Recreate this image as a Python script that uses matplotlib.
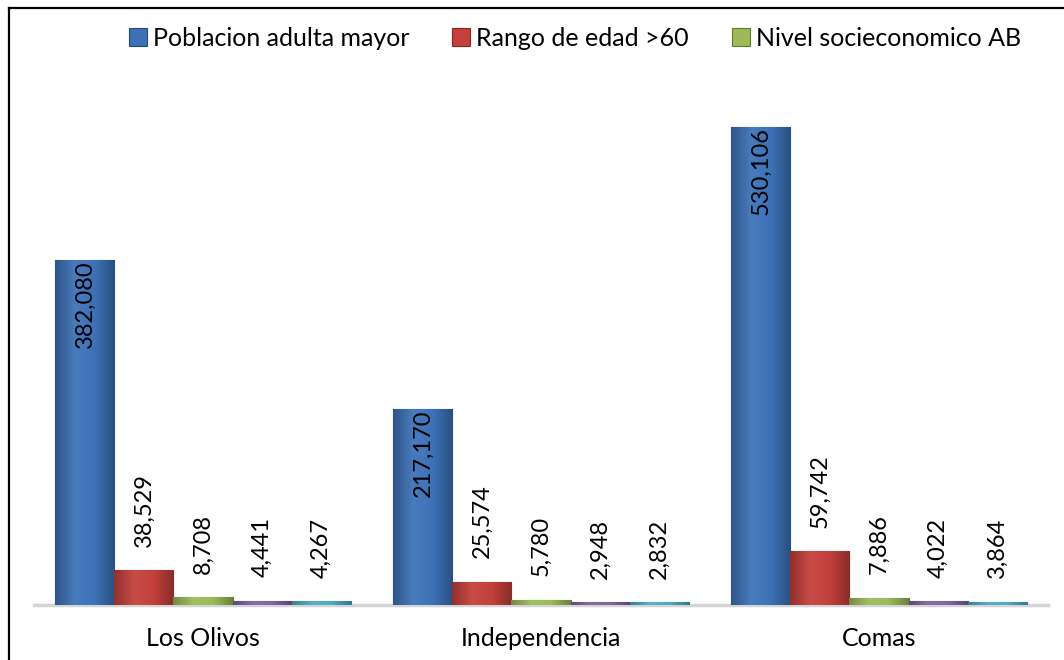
import numpy as np
import matplotlib.pyplot as plt
from matplotlib.lines import Line2D
from matplotlib.colors import LinearSegmentedColormap, to_rgb

plt.rcParams["font.family"] = ["Lato", "DejaVu Sans"]

districts = ["Los Olivos", "Independencia", "Comas"]
series_names = ["Poblacion adulta mayor", "Rango de edad >60", "Nivel socieconomico AB",
                "Serie 4", "Serie 5"]
poblacion = [382080, 217170, 530106]
rango_60 = [38529, 25574, 59742]
nivel_ab = [8708, 5780, 7886]
serie_4 = [4441, 2948, 4022]
serie_5 = [4267, 2832, 3864]

series = [poblacion, rango_60, nivel_ab, serie_4, serie_5]
colors = ["#3D72B8", "#C4403B", "#9BBB59", "#8064A2", "#4BACC6"]
edges = ["#1F4A80", "#8A2522", "#5E7A2A", "#4E3A6E", "#2A7A90"]
in_legend = [True, True, True, False, False]


def shade(c, f):
    r, g, b = to_rgb(c)
    if f >= 0:
        return (r + (1 - r) * f, g + (1 - g) * f, b + (1 - b) * f)
    return (r * (1 + f), g * (1 + f), b * (1 + f))


fig = plt.figure(figsize=(10.64, 6.6), dpi=100)
W, H = 1064, 660
ax = fig.add_axes([34 / W, 1 - 605 / H, (1048 - 34) / W, (605 - 64) / H])

x = np.arange(len(districts))
bw = 0.1746
handles = []
for i, (vals, name) in enumerate(zip(series, series_names)):
    pos = x - 2 * bw + i * bw
    bars = ax.bar(pos, vals, width=bw, color=colors[i], edgecolor=edges[i],
                  linewidth=0.8, label=name, zorder=3)
    cmap = LinearSegmentedColormap.from_list(
        "g", [shade(colors[i], -0.25), shade(colors[i], 0.06),
              colors[i], shade(colors[i], -0.3)])
    grad = np.linspace(0, 1, 64).reshape(1, -1)
    for b in bars:
        im = ax.imshow(grad, cmap=cmap, aspect="auto", zorder=3.5,
                       extent=[b.get_x(), b.get_x() + b.get_width(), 0, b.get_height()])
        im.set_clip_path(b)
    if in_legend[i]:
        handles.append(bars)
    for b, v in zip(bars, vals):
        cx = b.get_x() + b.get_width() / 2
        if i == 0:
            ax.annotate(f"{v:,}", (cx, v), xytext=(0, 0), textcoords="offset points",
                        rotation=90, ha="center", va="top", fontsize=17,
                        color="black", zorder=5)
        else:
            ax.annotate(f"{v:,}", (cx, v), xytext=(0, 17), textcoords="offset points",
                        rotation=90, ha="center", va="bottom", fontsize=17,
                        color="black", zorder=5)

ax.set_xlim(-0.5, 2.5)
ax.set_ylim(0, 600000)
ax.set_xticks(x)
ax.set_xticklabels(districts, fontsize=18)
ax.tick_params(axis="x", length=0, pad=16)
ax.set_yticks([])
for s in ["top", "left", "right"]:
    ax.spines[s].set_visible(False)
ax.spines["bottom"].set_color("#D4D4D4")
ax.spines["bottom"].set_linewidth(2.5)
ax.spines["bottom"].set_zorder(2)

fig.legend(handles=handles, labels=series_names[:3], loc="center",
           bbox_to_anchor=(575 / W, 1 - 38 / H), ncol=3, frameon=False,
           fontsize=18, handlelength=0.72, handleheight=0.72,
           handletextpad=0.25, columnspacing=1.7)

# outer frame (only left and top edges are inside the picture)
fig.add_artist(Line2D([8.5 / W, 8.5 / W], [0, 1 - 7.5 / H], color="black", lw=1.6,
                      transform=fig.transFigure))
fig.add_artist(Line2D([8.5 / W, 1], [1 - 7.5 / H, 1 - 7.5 / H], color="black", lw=1.6,
                      transform=fig.transFigure))

fig.savefig("out.png", dpi=100)
